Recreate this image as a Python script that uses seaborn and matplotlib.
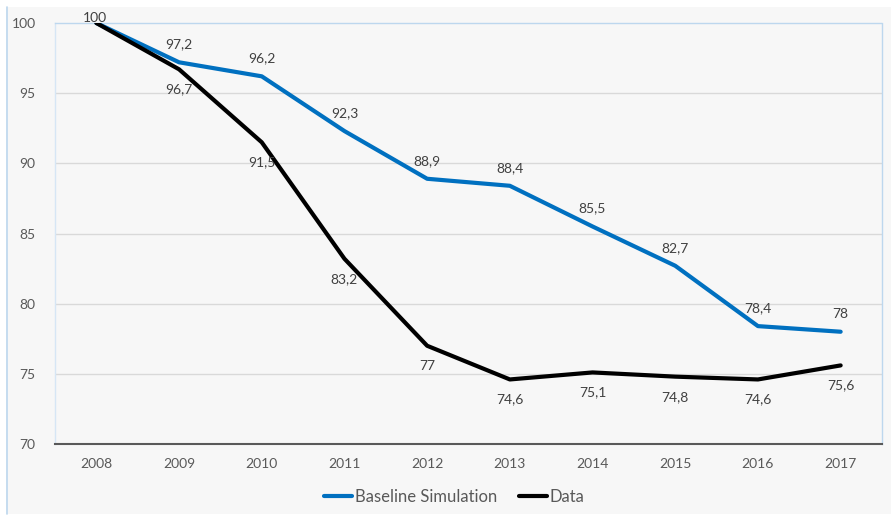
import matplotlib
matplotlib.use("Agg")
import matplotlib.pyplot as plt
import seaborn as sns
import pandas as pd
from matplotlib.patches import Rectangle

years = ["2008", "2009", "2010", "2011", "2012", "2013", "2014", "2015", "2016", "2017"]
baseline = [100, 97.2, 96.2, 92.3, 88.9, 88.4, 85.5, 82.7, 78.4, 78]
data = [100, 96.7, 91.5, 83.2, 77, 74.6, 75.1, 74.8, 74.6, 75.6]
series_names = ["Baseline Simulation", "Data"]
y_ticks = [70, 75, 80, 85, 90, 95, 100]

sns.set_theme(style="white")
plt.rcParams["font.family"] = ["Lato", "DejaVu Sans"]

df = pd.DataFrame({
    "year": years * 2,
    "value": baseline + data,
    "series": [series_names[0]] * len(years) + [series_names[1]] * len(years),
})

W, H = 891, 517
fig = plt.figure(figsize=(W / 100, H / 100), dpi=100, facecolor="white")
# chart area background with a light border on the left
fig.patches.append(Rectangle((6 / W, 3 / H), 1 - 6 / W, 1 - 10 / H, transform=fig.transFigure,
                             facecolor="#f7f7f7", edgecolor="none", zorder=-10))
fig.lines.append(plt.Line2D([6.5 / W, 6.5 / W], [3 / H, 1 - 7 / H], transform=fig.transFigure,
                            color="#bdd7ee", lw=1.2, zorder=-9))

ax = fig.add_axes([55 / W, (H - 444) / H, (882 - 55) / W, (444 - 23) / H])
ax.set_facecolor("#f7f7f7")

palette = {series_names[0]: "#0070c0", series_names[1]: "#000000"}
df["x"] = df["year"].map({y: i for i, y in enumerate(years)})
sns.lineplot(data=df, x="x", y="value", hue="series", palette=palette, lw=3,
             ax=ax, legend=True, zorder=3)

ax.set_xlim(-0.5, len(years) - 0.5)
ax.set_ylim(70, 100)
ax.set_xticks(range(len(years)))
ax.set_xticklabels(years)
ax.set_yticks(y_ticks)
ax.set_yticklabels([str(t) for t in y_ticks])
ax.set_xlabel("")
ax.set_ylabel("")
ax.tick_params(axis="both", length=0, labelsize=10, labelcolor="#595959")
ax.tick_params(axis="y", pad=14)
ax.tick_params(axis="x", pad=10)

for t in y_ticks[1:-1]:
    ax.axhline(t, color="#d9d9d9", lw=1, zorder=1)

for side in ["top", "right"]:
    ax.spines[side].set_color("#bdd7ee")
    ax.spines[side].set_linestyle((0, (1, 1)))
    ax.spines[side].set_linewidth(1)
ax.spines["left"].set_color("#d6e6f5")
ax.spines["left"].set_linewidth(1)
ax.spines["bottom"].set_color("#595959")
ax.spines["bottom"].set_linewidth(1.5)

# value labels: simulation above the line, data below
for i, v in enumerate(baseline):
    if i == 0:
        continue
    ax.annotate(f"{v:g}".replace(".", ","), (i, v), xytext=(0, 13), textcoords="offset points",
                ha="center", va="center", fontsize=10, color="#404040", zorder=4)
for i, v in enumerate(data):
    off = 3.5 if i == 0 else -14.5
    ax.annotate(f"{v:g}".replace(".", ","), (i, v), xytext=(-1 if i == 0 else 0, off),
                textcoords="offset points", ha="center", va="center", fontsize=10,
                color="#404040", zorder=4, annotation_clip=False)

handles, labels = ax.get_legend_handles_labels()
ax.legend_.remove()
fig.legend(handles, labels, loc="center", bbox_to_anchor=(454 / W, 1 - 497 / H), ncol=2,
           frameon=False, fontsize=12, labelcolor="#595959", handlelength=1.7,
           handletextpad=0.15, columnspacing=1.3)

fig.savefig("out.png", dpi=100, facecolor="white")
